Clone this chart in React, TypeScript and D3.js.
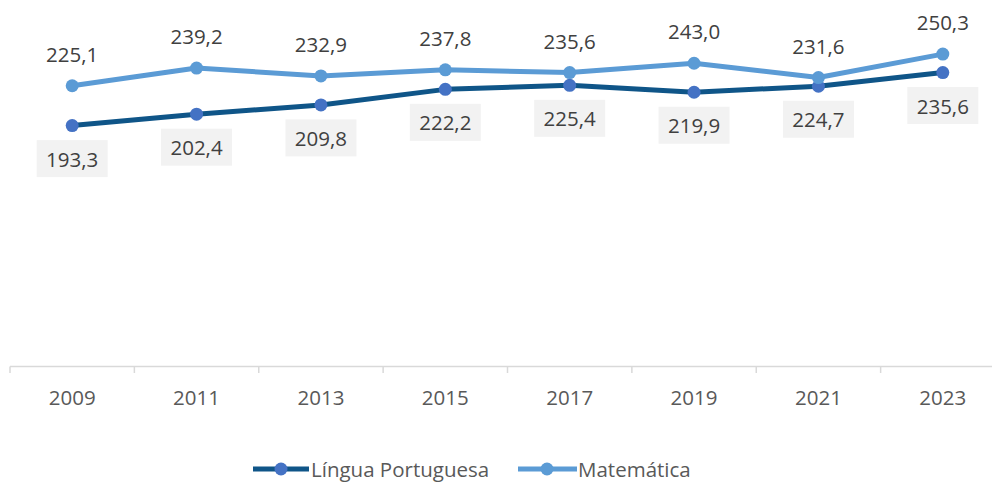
import React from "react";
import * as d3 from "d3";

const years = ["2009", "2011", "2013", "2015", "2017", "2019", "2021", "2023"];
const portugues = [193.3, 202.4, 209.8, 222.2, 225.4, 219.9, 224.7, 235.6];
const matematica = [225.1, 239.2, 232.9, 237.8, 235.6, 243.0, 231.6, 250.3];
const seriesNames = ["Língua Portuguesa", "Matemática"];

const W = 992;
const H = 482;
const FONT = "'Open Sans', 'Noto Sans', sans-serif";
const FS = 20.5;
const fmt = (v: number) => v.toFixed(1).replace(".", ",");

export default function App() {
  const x = d3.scaleBand<string>().domain(years).range([10, 1005]).padding(0);
  const y = d3.scaleLinear().domain([0, 250]).range([368, 54.5]);
  const cx = (yr: string) => (x(yr) as number) + x.bandwidth() / 2;
  const line = d3
    .line<number>()
    .x((_, i) => cx(years[i]))
    .y((d) => y(d));

  const ptColor = "#0f5588";
  const ptMarker = "#4472c4";
  const matColor = "#5b9bd5";

  const ticks = years.map((yr) => x(yr) as number);

  return (
    <svg
      width={W}
      height={H}
      style={{ position: "absolute", left: 0, top: 0, background: "#fff" }}
      fontFamily={FONT}
    >
      {/* axis */}
      <line x1={10} x2={W} y1={366.5} y2={366.5} stroke="#d9d9d9" strokeWidth={1.5} />
      {ticks.map((t, i) => (
        <line key={i} x1={t} x2={t} y1={366.5} y2={373} stroke="#d9d9d9" strokeWidth={1.5} />
      ))}
      {years.map((yr) => (
        <text
          key={yr}
          x={cx(yr)}
          y={404.5}
          textAnchor="middle"
          fontSize={FS}
          fill="#595959"
        >
          {yr}
        </text>
      ))}

      {/* Língua Portuguesa */}
      <path d={line(portugues) || ""} fill="none" stroke={ptColor} strokeWidth={5} strokeLinejoin="round" />
      {portugues.map((v, i) => (
        <circle key={i} cx={cx(years[i])} cy={y(v)} r={6.5} fill={ptMarker} />
      ))}

      {/* Matemática */}
      <path d={line(matematica) || ""} fill="none" stroke={matColor} strokeWidth={5} strokeLinejoin="round" />
      {matematica.map((v, i) => (
        <circle key={i} cx={cx(years[i])} cy={y(v)} r={6.5} fill={matColor} />
      ))}

      {/* Labels Matemática (above) */}
      {matematica.map((v, i) => (
        <text
          key={i}
          x={cx(years[i])}
          y={y(v) - 24}
          textAnchor="middle"
          fontSize={FS}
          fill="#404040"
        >
          {fmt(v)}
        </text>
      ))}

      {/* Labels Português (boxed, below) */}
      {portugues.map((v, i) => (
        <g key={i}>
          <rect
            x={cx(years[i]) - 35.5}
            y={y(v) + 14.5}
            width={71}
            height={37}
            fill="#f2f2f2"
          />
          <text
            x={cx(years[i])}
            y={y(v) + 41}
            textAnchor="middle"
            fontSize={FS}
            fill="#404040"
          >
            {fmt(v)}
          </text>
        </g>
      ))}

      {/* Legend */}
      <g>
        <line x1={253} x2={309} y1={469} y2={469} stroke={ptColor} strokeWidth={5} />
        <circle cx={281} cy={469} r={6.5} fill={ptMarker} />
        <text x={311} y={476.5} fontSize={FS} fill="#595959">
          {seriesNames[0]}
        </text>
        <line x1={518} x2={577} y1={469} y2={469} stroke={matColor} strokeWidth={5} />
        <circle cx={547} cy={469} r={6.5} fill={matColor} />
        <text x={578} y={476.5} fontSize={FS} fill="#595959">
          {seriesNames[1]}
        </text>
      </g>
    </svg>
  );
}
